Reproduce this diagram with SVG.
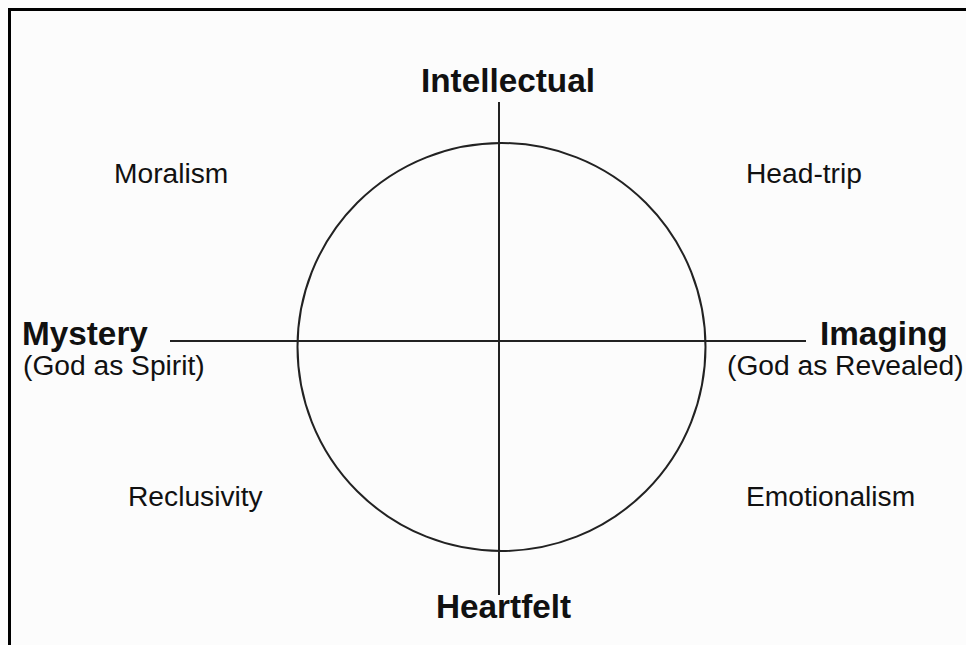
<svg xmlns="http://www.w3.org/2000/svg" width="966" height="645" viewBox="0 0 966 645">
<style>
.t{font-family:"Liberation Sans",Arial,sans-serif;fill:#111}
.b{font-weight:bold;font-size:33.3px}
.r{font-size:28.2px}
.ln{stroke:#222;stroke-width:2;fill:none}
</style>
<rect x="0" y="0" width="966" height="645" fill="#fcfcfc"/>
<path d="M9.5 645 V9.5 H966" fill="none" stroke="#000" stroke-width="3"/>
<g id="connectors">
<circle class="ln" cx="501.5" cy="347" r="204"/>
<line class="ln" x1="499" y1="102" x2="499" y2="595"/>
<line class="ln" x1="170" y1="341" x2="806" y2="341"/>
</g>
<g id="intellectual"><text class="t b" x="421" y="92">Intellectual</text></g>
<g id="heartfelt"><text class="t b" x="436" y="618">Heartfelt</text></g>
<g id="mystery"><text class="t b" x="22" y="345">Mystery</text><text class="t r" x="23" y="375">(God as Spirit)</text></g>
<g id="imaging"><text class="t b" x="820" y="345">Imaging</text><text class="t r" x="727" y="375">(God as Revealed)</text></g>
<g id="moralism"><text class="t r" x="114" y="183">Moralism</text></g>
<g id="headtrip"><text class="t r" x="746" y="183">Head-trip</text></g>
<g id="reclusivity"><text class="t r" x="128" y="506">Reclusivity</text></g>
<g id="emotionalism"><text class="t r" x="746" y="506">Emotionalism</text></g>
</svg>
